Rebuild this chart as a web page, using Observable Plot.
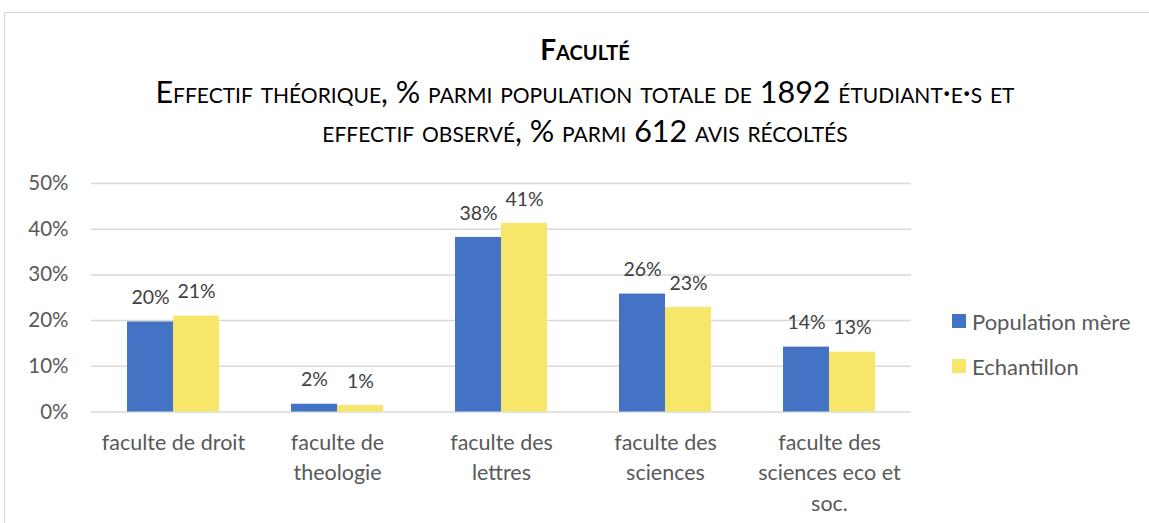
<!DOCTYPE html>
<html>
<head>
<meta charset="utf-8">
<script src="https://cdn.jsdelivr.net/npm/d3@7"></script>
<script src="https://cdn.jsdelivr.net/npm/@observablehq/plot@0.6"></script>
<style>
  html, body { margin: 0; padding: 0; background: #fff; }
  body { width: 1149px; height: 523px; overflow: hidden; position: relative; font-family: Lato, "Open Sans", sans-serif; }
  #frame { position: absolute; left: 4px; top: 12px; width: 1300px; height: 700px; border: 1.5px solid #d9d9d9; box-sizing: border-box; }
  #chart { position: absolute; left: 0; top: 0; }
  .title { position: absolute; left: 0; width: 1170px; text-align: center; color: #000; font-variant: small-caps; }
  #t1 { top: 33px; font-size: 28px; line-height: 32px; font-weight: bold; }
  #t2 { top: 72px; font-size: 30.5px; line-height: 39px; }
  .legend { position: absolute; left: 952px; font-size: 22px; color: #595959; display: flex; align-items: center; height: 20px; }
  .legend span.sw { width: 14px; height: 14px; display: inline-block; margin-right: 6px; }
</style>
</head>
<body>
<div id="frame"></div>
<div id="chart"></div>
<div class="title" id="t1">Faculté</div>
<div class="title" id="t2">Effectif théorique, % parmi population totale de 1892 étudiant·e·s et<br>effectif observé, % parmi 612 avis récoltés</div>
<div id="legend"></div>
<script>
// ---- data ----
const categories = ["faculte de droit", "faculte de theologie", "faculte des lettres", "faculte des sciences", "faculte des sciences eco et soc."];
const tickLabels = ["faculte de droit", "faculte de\ntheologie", "faculte des\nlettres", "faculte des\nsciences", "faculte des\nsciences eco et\nsoc."];
const series = ["Population mère", "Echantillon"];
const population = [19.7, 1.7, 38.2, 25.8, 14.2];
const echantillon = [21.0, 1.4, 41.3, 22.9, 13.1];
const yTicks = [0, 10, 20, 30, 40, 50];
const colors = ["#4472C4", "#F6E66A"];

const rows = categories.flatMap((c, i) => [
  {cat: c, series: series[0], v: population[i]},
  {cat: c, series: series[1], v: echantillon[i]}
]);
const labelOf = new Map(categories.map((c, i) => [c, tickLabels[i]]));

const chart = Plot.plot({
  width: 1149,
  height: 523,
  marginTop: 183,
  marginBottom: 111.5,
  marginLeft: 90,
  marginRight: 237,
  style: {fontFamily: "Lato, 'Open Sans', sans-serif", background: "transparent"},
  fx: {domain: categories, padding: 0, label: null},
  x: {domain: series, paddingInner: 0, paddingOuter: 0.77, axis: null},
  y: {domain: [0, 50], label: null},
  color: {domain: series, range: colors},
  marks: [
    Plot.gridY(yTicks, {stroke: "#d9d9d9", strokeOpacity: 1, strokeWidth: 1.5}),
    Plot.barY(rows, {fx: "cat", x: "series", y: "v", fill: "series"}),
    Plot.text(rows, {fx: "cat", x: "series", y: "v", text: d => Math.round(d.v) + "%", dy: -24, fontSize: 19.5, fill: "#404040"}),
    Plot.axisY(yTicks, {tickSize: 0, tickPadding: 23, fontSize: 20.5, fill: "#595959", tickFormat: d => d + "%", label: null}),
    Plot.axisFx({anchor: "bottom", tickSize: 0, tickPadding: 17, fontSize: 21.5, fill: "#595959", lineHeight: 1.4, tickFormat: d => labelOf.get(d), label: null})
  ]
});
document.getElementById("chart").appendChild(chart);

const legend = document.getElementById("legend");
series.forEach((s, i) => {
  const div = document.createElement("div");
  div.className = "legend";
  div.style.top = (311 + i * 45) + "px";
  div.innerHTML = `<span class="sw" style="background:${colors[i]}"></span>${s}`;
  legend.appendChild(div);
});
</script>
</body>
</html>
